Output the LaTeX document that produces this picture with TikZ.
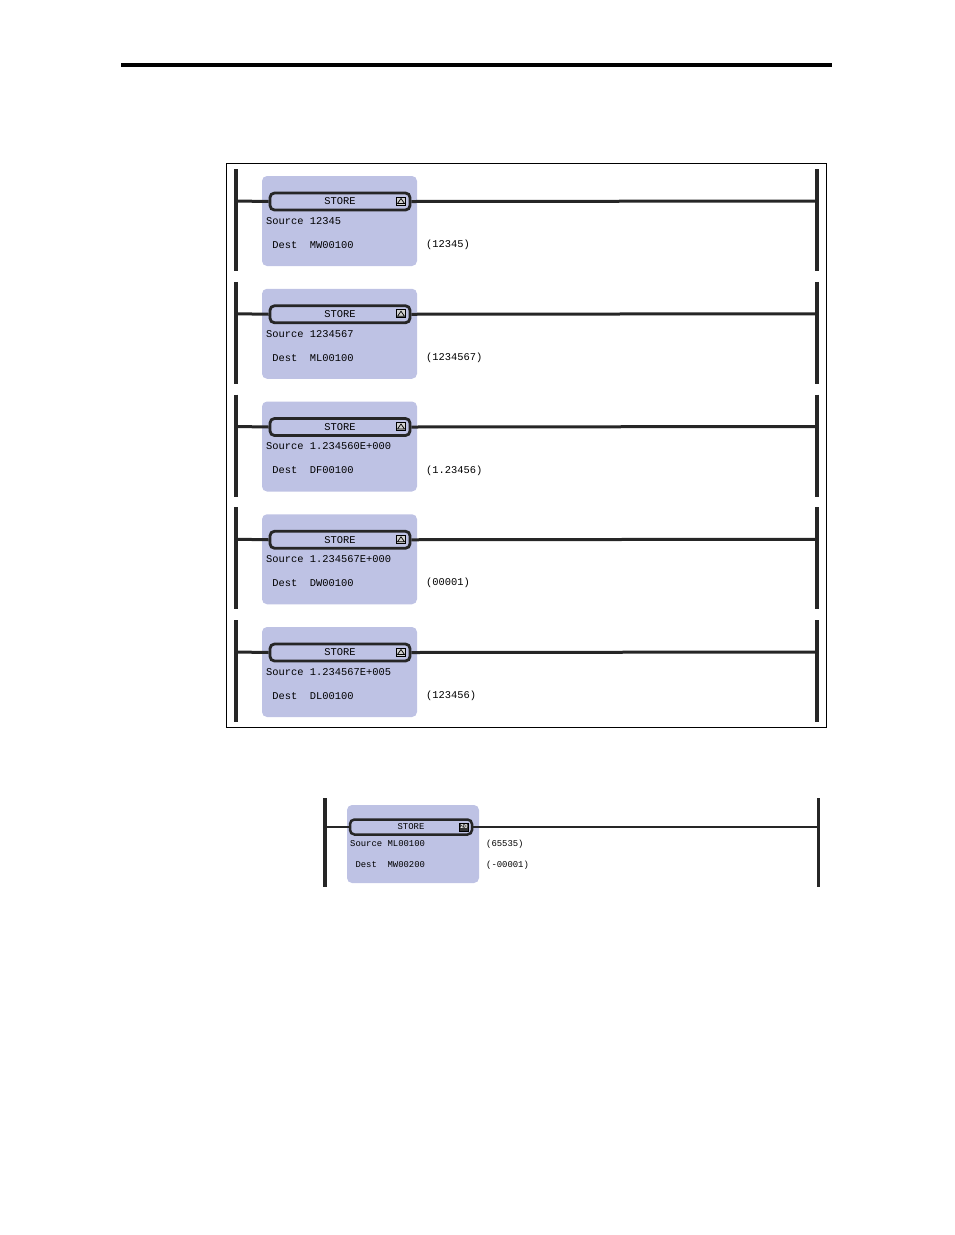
\documentclass[tikz,border=0pt]{standalone}
\usepackage{fontspec}
\setmonofont{Liberation Mono}
\usetikzlibrary{positioning}
\definecolor{boxblue}{RGB}{190,194,228}
\definecolor{barblack}{RGB}{38,38,38}
\begin{document}
\begin{tikzpicture}[x=1pt,y=-1pt]
\tikzstyle{every node}=[font=\ttfamily\fontsize{10.4}{10.4}\selectfont,inner sep=0pt]
\tikzstyle{fbox}=[fill=boxblue,rounded corners=5pt]
\tikzstyle{head}=[draw=barblack,line width=2.8pt,rounded corners=4.5pt,fill=boxblue]
\tikzstyle{bar}=[draw=barblack,line width=4.5pt]
\tikzstyle{wire}=[draw=barblack,line width=3pt]
\tikzstyle{icon}=[draw=black,line width=0.8pt,fill=gray!35,minimum width=9pt,minimum height=8pt]
\useasboundingbox (0,0) rectangle (954,1235);
\draw[line width=4pt] (121,65) -- (832,65);
\draw[line width=0.9pt] (226,163) rectangle (826,727);
\foreach \i/\src/\dst/\val in {0/12345/MW00100/(12345),1/1234567/ML00100/(1234567),2/1.234560E+000/DF00100/(1.23456),3/1.234567E+000/DW00100/(00001),4/1.234567E+005/DL00100/(123456)}{
  \pgfmathsetmacro\y{201+112.75*\i}
  \coordinate (lt\i) at (236,\y-32);
  \coordinate (lb\i) at (236,\y+70);
  \coordinate (rt\i) at (817,\y-32);
  \coordinate (rb\i) at (817,\y+70);
  \coordinate (lm\i) at (236,\y);
  \coordinate (rm\i) at (817,\y);
  \draw[bar] (lt\i) -- (lb\i);
  \draw[bar] (rt\i) -- (rb\i);
  \node[fbox,minimum width=155pt,minimum height=90pt] (box\i) at (339.5,\y+20) {};
  \node[head,minimum width=140pt,minimum height=17pt] (head\i) at (340,\y+0.5) {STORE};
  \node[icon] (icon\i) at (401,\y) {};
  \draw[line width=0.7pt] ([xshift=-3.5pt,yshift=-2.5pt]icon\i.center) -- ([yshift=2.5pt]icon\i.center) -- ([xshift=3.5pt,yshift=-2.5pt]icon\i.center) -- cycle;
  \draw[wire] (lm\i) -- (head\i.west);
  \draw[wire] (head\i.east) -- (rm\i);
  \node[anchor=west] (src\i) at (266,\y+20) {Source \src};
  \node[anchor=west] (dst\i) at (266,\y+44) {\ Dest\ \ \dst};
  \node[anchor=west] (val\i) at (426,\y+44) {\val};
}
% second network
\coordinate (lt5) at (325,798);
\coordinate (lb5) at (325,887);
\coordinate (rt5) at (818,798);
\coordinate (rb5) at (818,887);
\coordinate (lm5) at (325,827);
\coordinate (rm5) at (818,827);
\draw[bar,line width=4pt] (lt5) -- (lb5);
\draw[bar,line width=3pt] (rt5) -- (rb5);
\node[fbox,minimum width=132pt,minimum height=78pt] (box5) at (413,844) {};
\node[head,line width=2.5pt,minimum width=122pt,minimum height=15pt,font=\ttfamily\fontsize{8.9}{8.9}\selectfont] (head5) at (411,827) {STORE};
\node[icon,fill=black!80,minimum width=9pt,minimum height=8pt,font=\ttfamily\bfseries\fontsize{6}{6}\selectfont,text=white] (icon5) at (464,827) {20};
\draw[wire,line width=2.5pt] (lm5) -- (head5.west);
\draw[wire,line width=2.5pt] (head5.east) -- (rm5);
\node[anchor=west,font=\ttfamily\fontsize{8.9}{8.9}\selectfont] (src5) at (350,844) {Source ML00100};
\node[anchor=west,font=\ttfamily\fontsize{8.9}{8.9}\selectfont] (dst5) at (350,865) {\ Dest\ \ MW00200};
\node[anchor=west,font=\ttfamily\fontsize{8.9}{8.9}\selectfont] (val5) at (486,844) {(65535)};
\node[anchor=west,font=\ttfamily\fontsize{8.9}{8.9}\selectfont] (val6) at (486,865) {(-00001)};
\end{tikzpicture}
\end{document}
